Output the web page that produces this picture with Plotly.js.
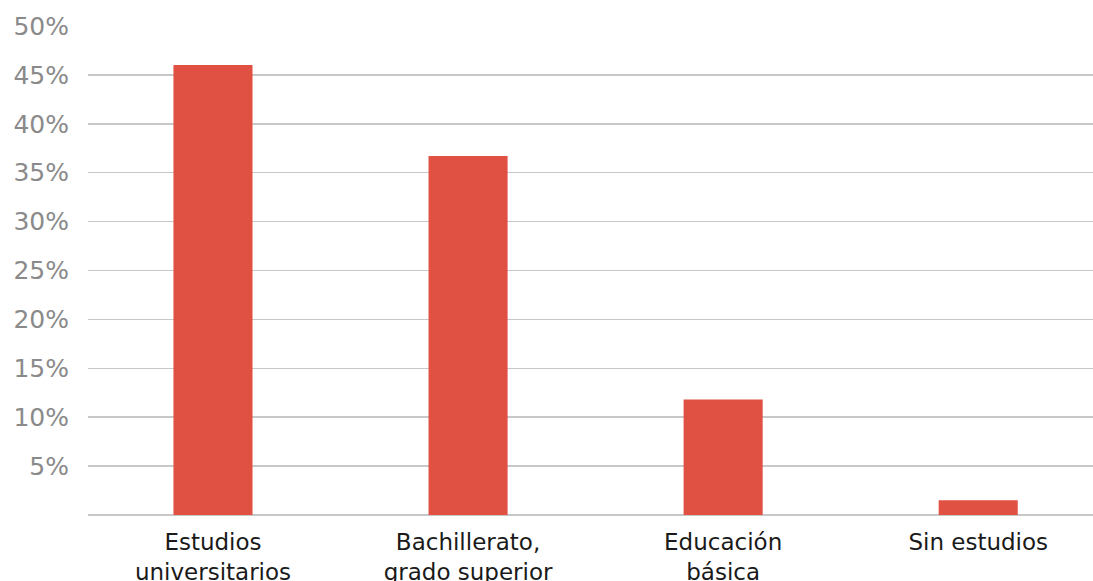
<!DOCTYPE html>
<html>
<head>
<meta charset="utf-8">
<script src="https://cdn.plot.ly/plotly-3.0.1.min.js"></script>
<style>html,body{margin:0;padding:0;background:#fff;}#chart{width:1093px;height:581px;}</style>
</head>
<body>
<div id="chart"></div>
<script>
const categories = ["Estudios<br>universitarios", "Bachillerato,<br>grado superior", "Educación<br>básica", "Sin estudios"];
const values = [46.0, 36.7, 11.8, 1.5];
const tickValues = [5, 10, 15, 20, 25, 30, 35, 40, 45, 50];
const tickLabels = ["5%", "10%", "15%", "20%", "25%", "30%", "35%", "40%", "45%", "50%"];

const trace = {
  type: "bar",
  x: categories,
  y: values,
  width: 0.31,
  marker: {color: "#E05043"},
  hoverinfo: "none"
};

const layout = {
  width: 1093,
  height: 581,
  margin: {l: 88, r: 0, t: 26, b: 66},
  paper_bgcolor: "#ffffff",
  plot_bgcolor: "#ffffff",
  showlegend: false,
  font: {family: "DejaVu Sans, sans-serif"},
  xaxis: {
    type: "category",
    range: [-0.49, 3.45],
    showgrid: false,
    zeroline: false,
    showline: false,
    ticks: "",
    tickfont: {size: 23, color: "#1a1a1a", family: "DejaVu Sans, sans-serif"},
    ticklabelstandoff: 11
  },
  yaxis: {
    range: [0, 50],
    tickvals: tickValues,
    ticktext: tickLabels,
    showgrid: true,
    gridcolor: "#c8c8c8",
    gridwidth: 1.5,
    zeroline: true,
    zerolinecolor: "#c8c8c8",
    zerolinewidth: 1.5,
    showline: false,
    ticks: "",
    tickfont: {size: 25, color: "#8a8a8a", family: "DejaVu Sans, sans-serif"},
    ticklabelstandoff: 18
  }
};

Plotly.newPlot("chart", [trace], layout, {displayModeBar: false, staticPlot: true});
</script>
</body>
</html>
